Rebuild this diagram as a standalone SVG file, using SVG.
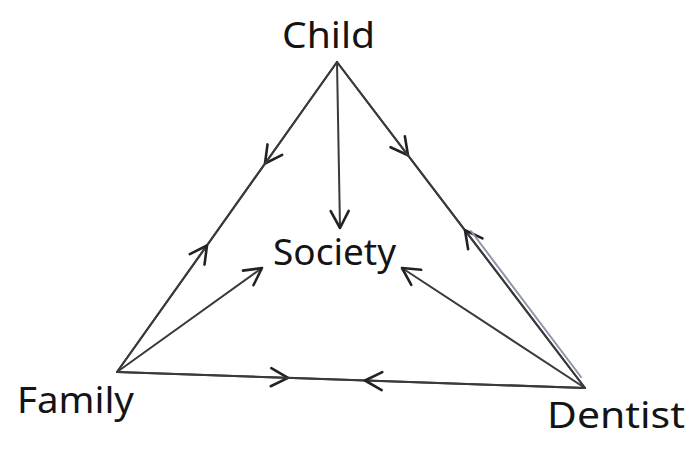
<svg xmlns="http://www.w3.org/2000/svg" width="698" height="451" viewBox="0 0 698 451">
<style>
.ln{fill:none;stroke:#3a3a3c;stroke-width:2;stroke-linecap:round;stroke-linejoin:round}
.lbl{font-family:"Noto Sans","DejaVu Sans",sans-serif;fill:#141414;font-size:36px}
</style>
<defs>
<marker id="chev" markerUnits="userSpaceOnUse" markerWidth="30" markerHeight="30" viewBox="-22 -15 30 30" refX="0" refY="0" orient="auto" overflow="visible">
<path d="M-17,-9 L0,0 L-17,9" fill="none" stroke="#222224" stroke-width="2.6" stroke-linecap="round" stroke-linejoin="round"/>
</marker>
</defs>
<rect width="698" height="451" fill="#ffffff"/>
<g id="connectors">
<path class="ln" d="M337,62 L265,163.5 L117,372" marker-mid="url(#chev)"/>
<path class="ln" d="M117,372 L207,245.5 L337,62" marker-mid="url(#chev)"/>
<path class="ln" d="M337,62 L408,155.3 L585,388" marker-mid="url(#chev)"/>
<path class="ln" d="M585,388 L465,230.3 L337,62" marker-mid="url(#chev)"/>
<path d="M468,232 L578,378" fill="none" stroke="#8d96ab" stroke-width="2" stroke-linecap="round" transform="translate(3,-1)"/>
<path class="ln" d="M337,62 L340,228" marker-end="url(#chev)"/>
<path class="ln" d="M117,372 L262,268" marker-end="url(#chev)"/>
<path class="ln" d="M585,388 L402,268" marker-end="url(#chev)"/>
<path class="ln" d="M117,372 L288,377.8 L585,388" marker-mid="url(#chev)"/>
<path class="ln" d="M585,388 L365,380.5 L117,372" marker-mid="url(#chev)"/>
</g>
<g id="node-child"><text class="lbl" x="282" y="48" textLength="93" lengthAdjust="spacingAndGlyphs">Child</text></g>
<g id="node-society"><text class="lbl" x="273" y="265" textLength="123" lengthAdjust="spacingAndGlyphs">Society</text></g>
<g id="node-family"><text class="lbl" x="17" y="413" textLength="117" lengthAdjust="spacingAndGlyphs">Family</text></g>
<g id="node-dentist"><text class="lbl" x="547" y="428" textLength="138" lengthAdjust="spacingAndGlyphs">Dentist</text></g>
</svg>
